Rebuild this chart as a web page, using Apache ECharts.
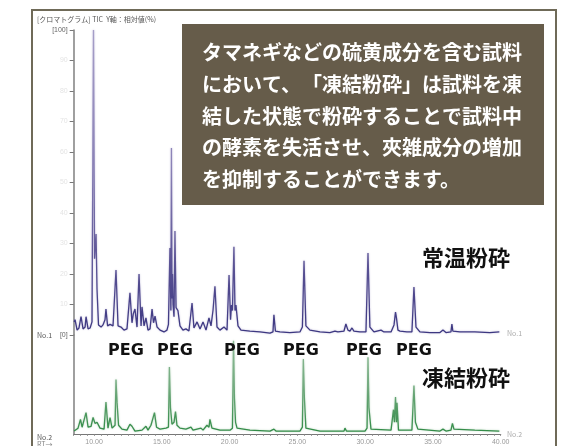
<!DOCTYPE html>
<html><head><meta charset="utf-8">
<style>html,body{margin:0;padding:0;background:#fff}#c{width:566px;height:446px;filter:blur(0.35px)}</style>
<script src="https://cdn.jsdelivr.net/npm/echarts@6/dist/echarts.min.js"></script>
</head><body><div id="c"></div>
<script>
// Retention time (min) and relative intensity (%)
const timesNo1 = [8.53,8.60,8.75,8.89,9.04,9.19,9.34,9.41,9.56,9.71,9.85,9.96,10.04,10.15,10.22,10.33,10.52,10.66,10.81,10.88,11.0,11.18,11.40,11.62,11.77,11.99,12.21,12.43,12.65,12.80,12.90,13.02,13.17,13.32,13.47,13.54,13.69,13.83,13.98,14.13,14.28,14.39,14.50,14.65,14.87,15.16,15.38,15.49,15.60,15.67,15.71,15.75,15.79,15.83,15.90,15.97,16.05,16.19,16.34,16.56,16.78,17.0,17.23,17.37,17.60,17.82,18.04,18.26,18.48,18.63,18.78,18.92,19.07,19.29,19.59,19.81,19.96,20.07,20.14,20.21,20.32,20.40,20.47,20.62,20.84,21.50,22.24,22.98,23.20,23.27,23.38,23.71,24.45,25.19,25.37,25.49,25.63,25.93,26.67,27.40,27.77,27.99,28.44,28.58,28.73,28.88,29.03,29.17,29.61,30.06,30.21,30.35,30.65,31.17,31.39,31.91,32.13,32.24,32.31,32.42,32.57,33.08,33.45,33.60,33.75,34.04,34.78,35.52,35.74,35.96,36.33,36.40,36.47,36.99,38.09,39.20,39.90];
const valuesNo1 = [4.3,5,1.6,2.3,6,2,2.6,6,2,2.3,4.3,100,25,33.1,15,3.3,2.6,3.3,5,8.5,3,3.5,3,21.3,3,2.6,1.6,2,13.8,4,7,8.5,2.6,20,3,9.2,3,5.6,1.6,2,8.5,4,6.2,2.6,1.6,1,1.6,3.5,28.5,8,61.3,12,20,10,6,34.1,9,8,3,1.6,2,1.3,10.5,2.3,4.3,2,4.3,1.6,5.6,3,8.2,16,2.6,1.6,2.6,1.6,19.7,5,9.8,8,28.9,8,9.8,3,1.6,1.3,1,0.6,1,6.6,1.3,1,0.8,1,2.6,24.3,3,1.6,1,0.8,1.3,1,1.3,3.6,1.6,1.3,2.3,1.3,1,1,26.9,2.6,1,1.6,1,1,3.3,7.5,5.6,1.6,1.3,1,1,15.7,2.6,1,0.8,0.8,1.6,0.8,1,3.6,1.3,1,1,0.8,1];
const timesNo2 = [8.53,8.82,9.0,9.12,9.26,9.41,9.56,9.78,9.93,10.07,10.22,10.44,10.74,10.88,11.03,11.18,11.33,11.55,11.62,11.70,11.81,12.06,12.43,12.65,12.80,13.02,13.54,13.83,13.98,14.20,14.46,14.61,14.87,15.31,15.49,15.56,15.64,15.75,15.90,16.01,16.12,16.34,16.78,17.15,17.30,17.89,18.04,18.33,18.48,18.55,18.70,19.29,20.03,20.21,20.29,20.36,20.44,20.55,21.50,22.98,23.27,23.42,25.19,25.37,25.44,25.52,25.63,26.67,28.44,28.51,28.62,29.99,30.14,30.21,30.28,30.43,31.91,32.09,32.16,32.24,32.31,32.35,32.46,33.45,33.60,33.71,33.89,35.52,35.74,35.96,36.33,36.44,36.55,38.09,39.90];
const valuesNo2 = [3.1,6.2,15.5,7.2,9.3,22.7,7.2,8.2,17.5,11.3,12.4,6.2,5.2,34,6.2,17.5,6.2,9.3,57.7,33,9.3,5.2,4.1,10.3,8.2,3.1,4.1,8.2,4.1,9.3,22.7,7.2,5.2,6.2,7.2,71,27.8,10.3,12.4,23.7,9.3,6.2,5.2,7.2,4.1,6.2,4.1,9.3,7.2,15.5,6.2,4.1,4.1,6.2,99,38,12.4,6.2,4.1,3.1,5.2,3.1,3.1,7.2,79.4,38,6.2,3.1,3.1,6.2,3.1,3.1,6.2,81.4,28,5.2,4.1,25.8,12.4,39.2,12.4,33,4.1,4.1,51.5,12.4,5.2,3.1,5.2,3.1,4.1,11.3,5.2,4.1,3.1];
const yTicksShown = {100:'[100]',0:'[0]'};
const pegLabels = ['PEG','PEG','PEG','PEG','PEG','PEG'];
const pegX = [126,175,242,301,364,414];
const noteLines = ['タマネギなどの硫黄成分を含む試料','において、','「凍結粉砕」は試料を凍','結した状態で粉砕することで試料中','の酵素を失活させ、夾雑成分の増加','を抑制することができます。'];
const noteX = [202,202,302,202,202,202];
const noteY = [52,84,84,116,147,179];

const jp='"Noto Sans CJK JP"';
const pair=(a,b)=>a.map((t,i)=>[t,b[i]]);
const grad=(c)=>new echarts.graphic.LinearGradient(0,0,0,1,c.map(([offset,color])=>({offset,color})));
const small=(text,x,y,color,align)=>({type:'text',x,y,z:20,style:{text,fill:color||'#666',font:'7px '+jp,textAlign:align||'left',textVerticalAlign:'middle'}});
const chart=echarts.init(document.getElementById('c'),null,{renderer:'canvas'});
chart.setOption({
  animation:false,backgroundColor:'#fff',
  grid:[{left:73.7,top:30,width:427,height:305},{left:73.7,top:335,width:427,height:102}],
  xAxis:[
    {gridIndex:0,type:'value',min:8.5,max:40,show:false},
    {gridIndex:1,type:'value',min:8.5,max:40,interval:0.5,
      axisLine:{lineStyle:{color:'#777',width:1.2}},axisTick:{length:2,lineStyle:{color:'#888',width:0.8}},splitLine:{show:false},
      axisLabel:{margin:5,fontSize:7,color:'#999',formatter:v=>v%5===0?v.toFixed(2):''}}
  ],
  yAxis:[
    {gridIndex:0,type:'value',min:0,max:100,interval:10,splitLine:{show:false},
      axisLine:{show:true,lineStyle:{color:'#888',width:1.6}},axisTick:{length:4,lineStyle:{color:'#777',width:1}},
      axisLabel:{margin:6,fontSize:7,formatter:v=>yTicksShown[v]?'{a|'+yTicksShown[v]+'}':'{b|'+v+'}',
        rich:{a:{color:'#666',fontSize:7},b:{color:'#e4e4e4',fontSize:7}}}},
    {gridIndex:1,type:'value',min:0,max:105,splitLine:{show:false},
      axisLine:{show:true,lineStyle:{color:'#888',width:1.6}},axisTick:{show:false},axisLabel:{show:false}}
  ],
  series:[
    {type:'line',xAxisIndex:0,yAxisIndex:0,data:pair(timesNo1,valuesNo1),symbol:'none',clip:false,
      lineStyle:{width:1.3,shadowBlur:2,shadowColor:'rgba(130,120,180,0.5)',
        color:grad([[0,'#a69ec8'],[0.45,'#8a81b6'],[0.75,'#5d5596'],[1,'#3b3680']])}},
    {type:'line',xAxisIndex:1,yAxisIndex:1,data:pair(timesNo2,valuesNo2),symbol:'none',clip:false,
      lineStyle:{width:1.3,shadowBlur:2,shadowColor:'rgba(110,170,120,0.5)',
        color:grad([[0,'#8dbb96'],[0.5,'#74ab80'],[1,'#2f8a45']])}}
  ],
  graphic:[
    {type:'rect',z:10,shape:{x:32,y:10,width:524,height:445},style:{fill:'transparent',stroke:'#6f6a58',lineWidth:2}},
    {type:'rect',z:11,shape:{x:182,y:24,width:362,height:181},style:{fill:'#665c4a'}},
    ...noteLines.map((text,i)=>({type:'text',x:noteX[i],y:noteY[i],z:12,style:{text,fill:'#fff',font:'bold 20px '+jp,textVerticalAlign:'middle'}})),
    ...pegLabels.map((text,i)=>({type:'text',x:pegX[i],y:351,z:12,style:{text,fill:'#111',font:'bold 16px "DejaVu Sans"',textAlign:'center',textVerticalAlign:'middle'}})),
    {type:'text',x:466,y:258,z:12,style:{text:'常温粉砕',fill:'#111',font:'bold 22px '+jp,textAlign:'center',textVerticalAlign:'middle'}},
    {type:'text',x:466,y:378,z:12,style:{text:'凍結粉砕',fill:'#111',font:'bold 22px '+jp,textAlign:'center',textVerticalAlign:'middle'}},
    small('[クロマトグラム] TIC  Y軸：相対値(%)',37,19,'#555'),
    small('No.1',37,335,'#555'),
    small('No.2',37,437,'#555'),
    small('RT→',37,444,'#888'),
    small('No.1',507,333,'#aaa'),
    small('No.2',507,434,'#aaa')
  ]
});
</script></body></html>
